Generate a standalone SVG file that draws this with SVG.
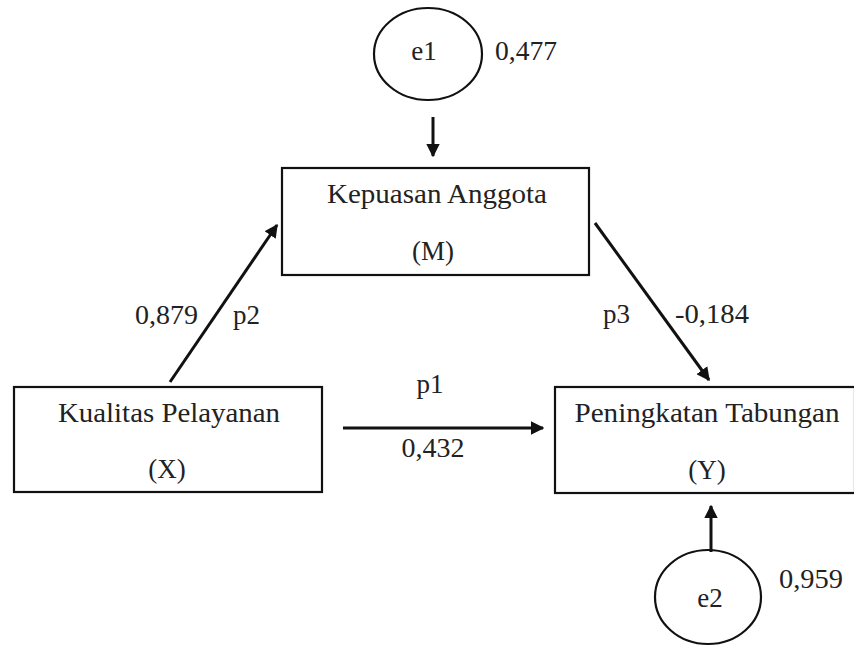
<svg xmlns="http://www.w3.org/2000/svg" width="854" height="647" viewBox="0 0 854 647">
<defs>
<style>
.box{fill:#fff;stroke:#111;stroke-width:2.2}
.ell{fill:#fff;stroke:#111;stroke-width:2.2}
text{font-family:'Liberation Serif','Times New Roman',serif;font-size:27px;fill:#222}
.t{text-anchor:middle}
.c{stroke:#111;stroke-width:3;fill:none;marker-end:url(#ah)}
</style>
<marker id="ah" viewBox="0 0 10 10" refX="9" refY="5" markerWidth="4.5" markerHeight="4.5" orient="auto" markerUnits="strokeWidth">
<path d="M0,0 L10,5 L0,10 Z" fill="#111"/>
</marker>
</defs>
<rect width="854" height="647" fill="#fff"/>
<g id="e1">
<ellipse class="ell" cx="428" cy="54" rx="54" ry="46"/>
<text class="t" x="424" y="60">e1</text>
<text x="495" y="60" textLength="62" lengthAdjust="spacingAndGlyphs">0,477</text>
</g>
<g id="M">
<rect class="box" x="282" y="168" width="307" height="107"/>
<text class="t" x="437" y="203" textLength="220" lengthAdjust="spacingAndGlyphs">Kepuasan Anggota</text>
<text class="t" x="433" y="260">(M)</text>
</g>
<g id="X">
<rect class="box" x="14" y="387" width="308" height="105"/>
<text class="t" x="169" y="422" textLength="222" lengthAdjust="spacingAndGlyphs">Kualitas Pelayanan</text>
<text class="t" x="167" y="478">(X)</text>
</g>
<g id="Y">
<rect class="box" x="555" y="387" width="300" height="106"/>
<text class="t" x="707" y="422" textLength="265" lengthAdjust="spacingAndGlyphs">Peningkatan Tabungan</text>
<text class="t" x="707" y="479">(Y)</text>
</g>
<g id="e2">
<ellipse class="ell" cx="708" cy="597" rx="53" ry="47"/>
<text class="t" x="710" y="607">e2</text>
<text x="779" y="588" textLength="64" lengthAdjust="spacingAndGlyphs">0,959</text>
</g>
<g id="connectors">
<line class="c" x1="433" y1="117" x2="433" y2="156"/>
<line class="c" x1="170" y1="382" x2="277" y2="225"/>
<line class="c" x1="595" y1="223" x2="709" y2="380"/>
<line class="c" x1="343" y1="428" x2="543" y2="428"/>
<line class="c" x1="711" y1="552" x2="711" y2="506"/>
</g>
<g id="labels">
<text x="135" y="324" textLength="63" lengthAdjust="spacingAndGlyphs">0,879</text>
<text x="233" y="324">p2</text>
<text x="603" y="323">p3</text>
<text x="675" y="323" textLength="74" lengthAdjust="spacingAndGlyphs">-0,184</text>
<text class="t" x="430" y="393">p1</text>
<text class="t" x="433" y="457" textLength="63" lengthAdjust="spacingAndGlyphs">0,432</text>
</g>
</svg>
